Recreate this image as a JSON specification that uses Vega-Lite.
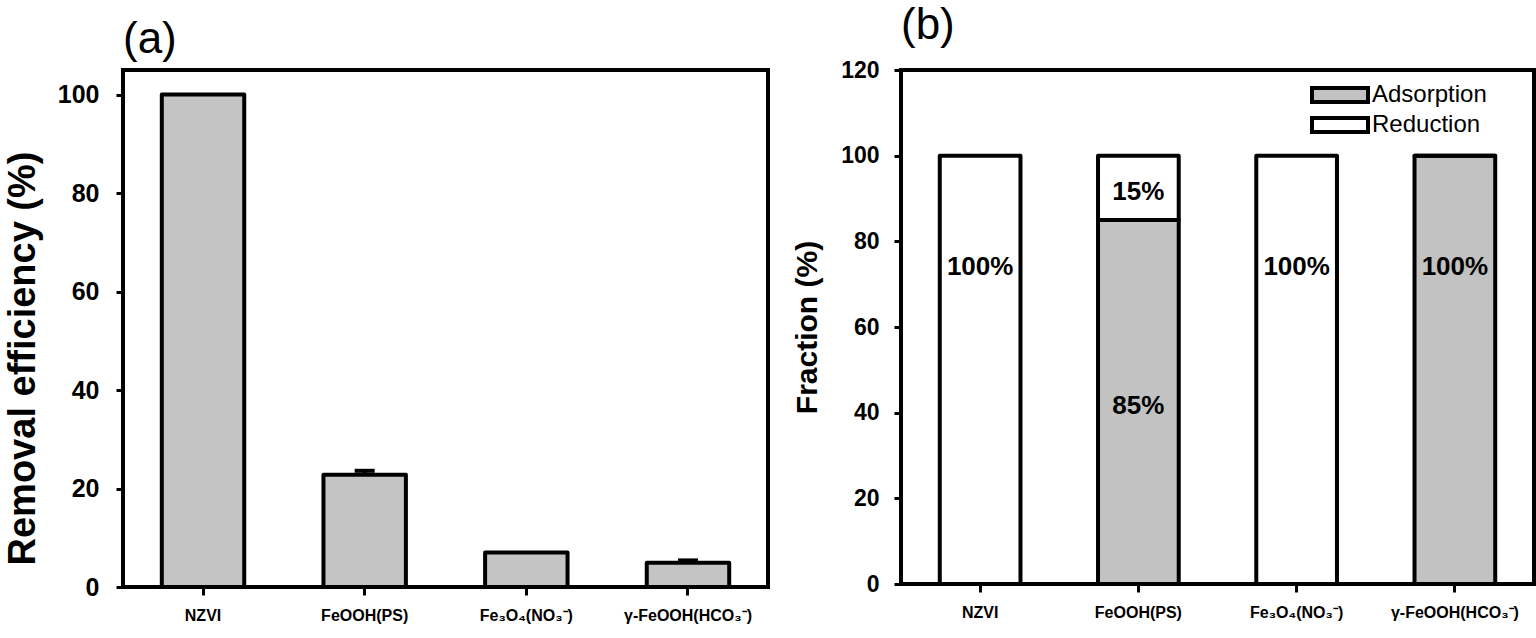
{
  "$schema": "https://vega.github.io/schema/vega-lite/v6.json",
  "background": "white",
  "padding": {"left": 2, "top": 2, "right": 2, "bottom": 2},
  "config": {
    "font": "Liberation Sans",
    "view": {"stroke": "black", "strokeWidth": 4},
    "axis": {
      "domain": false,
      "grid": false,
      "tickColor": "black",
      "tickWidth": 3,
      "tickSize": 7,
      "labelColor": "black",
      "labelFont": "Liberation Sans",
      "labelFontWeight": "bold",
      "titleColor": "black",
      "titleFont": "Liberation Sans",
      "titleFontWeight": "bold"
    },
    "axisX": {"labelFontSize": 16, "labelPadding": 12, "labelAngle": 0, "tickSize": 8, "title": null},
    "axisY": {"labelPadding": 16, "titlePadding": 15},
    "title": {"fontSize": 44, "fontWeight": "normal", "anchor": "start", "font": "Liberation Sans", "color": "black", "frame": "group", "offset": 8}
  },
  "datasets": {
    "removal": [
      {"material": "NZVI", "removal": 100, "upper": 100},
      {"material": "FeOOH(PS)", "removal": 22.8, "upper": 23.6},
      {"material": "Fe₃O₄(NO₃⁻)", "removal": 7.0, "upper": 7.0},
      {"material": "γ-FeOOH(HCO₃⁻)", "removal": 4.9, "upper": 5.4}
    ],
    "fraction": [
      {"material": "NZVI", "component": "Adsorption", "fraction": 0},
      {"material": "NZVI", "component": "Reduction", "fraction": 100},
      {"material": "FeOOH(PS)", "component": "Adsorption", "fraction": 85},
      {"material": "FeOOH(PS)", "component": "Reduction", "fraction": 15},
      {"material": "Fe₃O₄(NO₃⁻)", "component": "Adsorption", "fraction": 0},
      {"material": "Fe₃O₄(NO₃⁻)", "component": "Reduction", "fraction": 100},
      {"material": "γ-FeOOH(HCO₃⁻)", "component": "Adsorption", "fraction": 100},
      {"material": "γ-FeOOH(HCO₃⁻)", "component": "Reduction", "fraction": 0}
    ],
    "labels": [
      {"material": "NZVI", "label": "100%", "pos": 74},
      {"material": "FeOOH(PS)", "label": "15%", "pos": 91.5},
      {"material": "FeOOH(PS)", "label": "85%", "pos": 41.5},
      {"material": "Fe₃O₄(NO₃⁻)", "label": "100%", "pos": 74},
      {"material": "γ-FeOOH(HCO₃⁻)", "label": "100%", "pos": 74}
    ]
  },
  "spacing": 20,
  "hconcat": [
    {
      "width": 645,
      "height": 517,
      "title": {"text": "(a)"},
      "data": {"name": "removal"},
      "encoding": {
        "x": {
          "field": "material", "type": "nominal", "sort": null,
          "scale": {"paddingInner": 0.49, "paddingOuter": 0.24}
        }
      },
      "layer": [
        {
          "mark": {"type": "bar", "fill": "#c4c4c4", "stroke": "black", "strokeWidth": 4, "strokeJoin": "round"},
          "encoding": {
            "y": {
              "field": "removal", "type": "quantitative",
              "scale": {"domain": [0, 105], "nice": false},
              "axis": {"values": [0, 20, 40, 60, 80, 100], "title": "Removal efficiency (%)", "labelFontSize": 25, "titleFontSize": 38, "titleY": 288, "labelPadding": 17}
            }
          }
        },
        {
          "transform": [{"filter": "datum.upper > datum.removal"}],
          "mark": {"type": "rule", "color": "black", "strokeWidth": 4},
          "encoding": {
            "y": {"field": "removal", "type": "quantitative"},
            "y2": {"field": "upper"}
          }
        },
        {
          "transform": [{"filter": "datum.upper > datum.removal"}],
          "mark": {"type": "tick", "color": "black", "thickness": 4, "size": 20, "opacity": 1},
          "encoding": {
            "y": {"field": "upper", "type": "quantitative"}
          }
        }
      ]
    },
    {
      "width": 633,
      "height": 514,
      "title": {"text": "(b)", "offset": 11},
      "encoding": {
        "x": {
          "field": "material", "type": "nominal", "sort": null,
          "scale": {"paddingInner": 0.49, "paddingOuter": 0.245}
        }
      },
      "layer": [
        {
          "data": {"name": "fraction"},
          "mark": {"type": "bar", "stroke": "black", "strokeWidth": 4, "strokeJoin": "round"},
          "encoding": {
            "y": {
              "field": "fraction", "type": "quantitative", "stack": "zero",
              "scale": {"domain": [0, 120], "nice": false},
              "axis": {"values": [0, 20, 40, 60, 80, 100, 120], "title": "Fraction (%)", "labelFontSize": 23, "titleFontSize": 30, "labelPadding": 15, "titlePadding": 18}
            },
            "color": {
              "field": "component", "type": "nominal",
              "scale": {"domain": ["Adsorption", "Reduction"], "range": ["#c2c2c2", "#ffffff"]},
              "legend": {
                "title": null,
                "orient": "none",
                "legendX": 1205,
                "legendY": 13,
                "symbolType": "M-2.8,-0.7H2.8V0.7H-2.8Z",
                "symbolSize": 400,
                "symbolStrokeColor": "black",
                "symbolStrokeWidth": 4,
                "symbolOpacity": 1,
                "labelFontSize": 24,
                "labelFont": "Liberation Sans",
                "labelColor": "black",
                "labelOffset": 20,
                "rowPadding": 0
              }
            },
            "order": {"field": "component", "sort": "ascending"}
          }
        },
        {
          "data": {"name": "labels"},
          "mark": {"type": "text", "fontSize": 26, "fontWeight": "bold", "color": "black", "font": "Liberation Sans"},
          "encoding": {
            "y": {"field": "pos", "type": "quantitative"},
            "text": {"field": "label"}
          }
        }
      ]
    }
  ]
}
